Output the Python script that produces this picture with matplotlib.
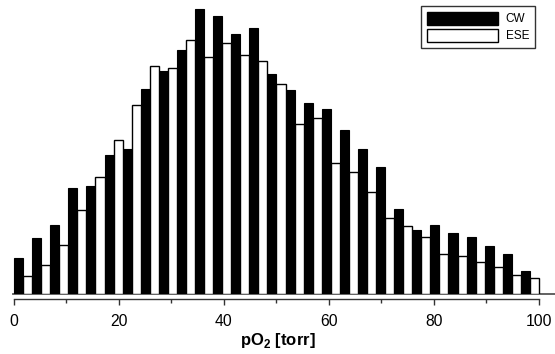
import numpy as np
import matplotlib
matplotlib.use("Agg")
import matplotlib.pyplot as plt
from matplotlib.patches import Patch

plt.rcParams['font.family'] = ['Liberation Sans', 'DejaVu Sans']
plt.rcParams['mathtext.fontset'] = 'custom'
plt.rcParams['mathtext.rm'] = 'Liberation Sans'
plt.rcParams['mathtext.bf'] = 'Liberation Sans:bold'

# pO2 histogram, 29 bins over 0-100 torr (arbitrary count units)
n_bins = 29
bin_edges_range = (0, 100)
cw = [36, 56, 69, 106, 108, 139, 145, 205, 223, 244, 285, 278, 260, 266, 220,
      204, 191, 185, 164, 145, 127, 85, 64, 69, 61, 57, 48, 40, 23]
ese = [18, 29, 49, 84, 117, 154, 189, 228, 226, 254, 237, 251, 239, 233, 210,
       170, 176, 131, 122, 102, 76, 68, 57, 40, 38, 32, 27, 19, 16]
xticks = [0, 20, 40, 60, 80, 100]

W, H = 555, 354
fig = plt.figure(figsize=(W / 100, H / 100), dpi=100)
px = 5.25  # pixels per torr
x0 = 14
left_lim = -x0 / px
right_lim = (W - x0) / px
ax = fig.add_axes([0, 1 - 294 / H, 1, 294 / H])
ax.set_xlim(left_lim, right_lim)
ax.set_ylim(0, 294)

w = (bin_edges_range[1] - bin_edges_range[0]) / n_bins
starts = bin_edges_range[0] + np.arange(n_bins) * w
ax.bar(starts, cw, width=w / 2, align='edge', color='black', edgecolor='black',
       linewidth=0.8, zorder=3)
ax.bar(starts + w / 2, ese, width=w / 2, align='edge', color='white',
       edgecolor='black', linewidth=1.0, zorder=3)

# baseline
ax.axhline(0, xmin=(-0.25 - left_lim) / (right_lim - left_lim), xmax=1,
           color='#555555', linewidth=1.3, zorder=2, clip_on=False)

for s in ['left', 'top', 'right']:
    ax.spines[s].set_visible(False)
ax.spines['bottom'].set_bounds(0, 100)
ax.spines['bottom'].set_position(('outward', 3.4))
ax.spines['bottom'].set_color('#333333')
ax.spines['bottom'].set_linewidth(1.0)
ax.set_yticks([])
ax.set_xticks(xticks)
ax.set_xticks(np.arange(10, 100, 20), minor=True)
ax.tick_params(axis='x', which='major', direction='out', length=4.3, width=1.0,
               color='#333333', labelsize=11.3, pad=6.5)
ax.tick_params(axis='x', which='minor', direction='out', length=2.6, width=1.0,
               color='#333333')
ax.set_xlabel(r'pO$_\mathbf{2}$ [torr]', fontsize=12, fontweight='bold', labelpad=2)

handles = [Patch(facecolor='black', edgecolor='black', label='CW'),
           Patch(facecolor='white', edgecolor='black', linewidth=1.0, label='ESE')]
leg = ax.legend(handles=handles, loc='upper right',
                bbox_to_anchor=(535 / W, 1 - 6 / H), bbox_transform=fig.transFigure,
                borderaxespad=0, frameon=True, fancybox=False, edgecolor='black',
                fontsize=8.5, handlelength=5.95, handleheight=1.32, handletextpad=0.68,
                borderpad=0.5, labelspacing=0.3)
leg.get_frame().set_linewidth(1.0)

fig.savefig('out.png', dpi=100)
